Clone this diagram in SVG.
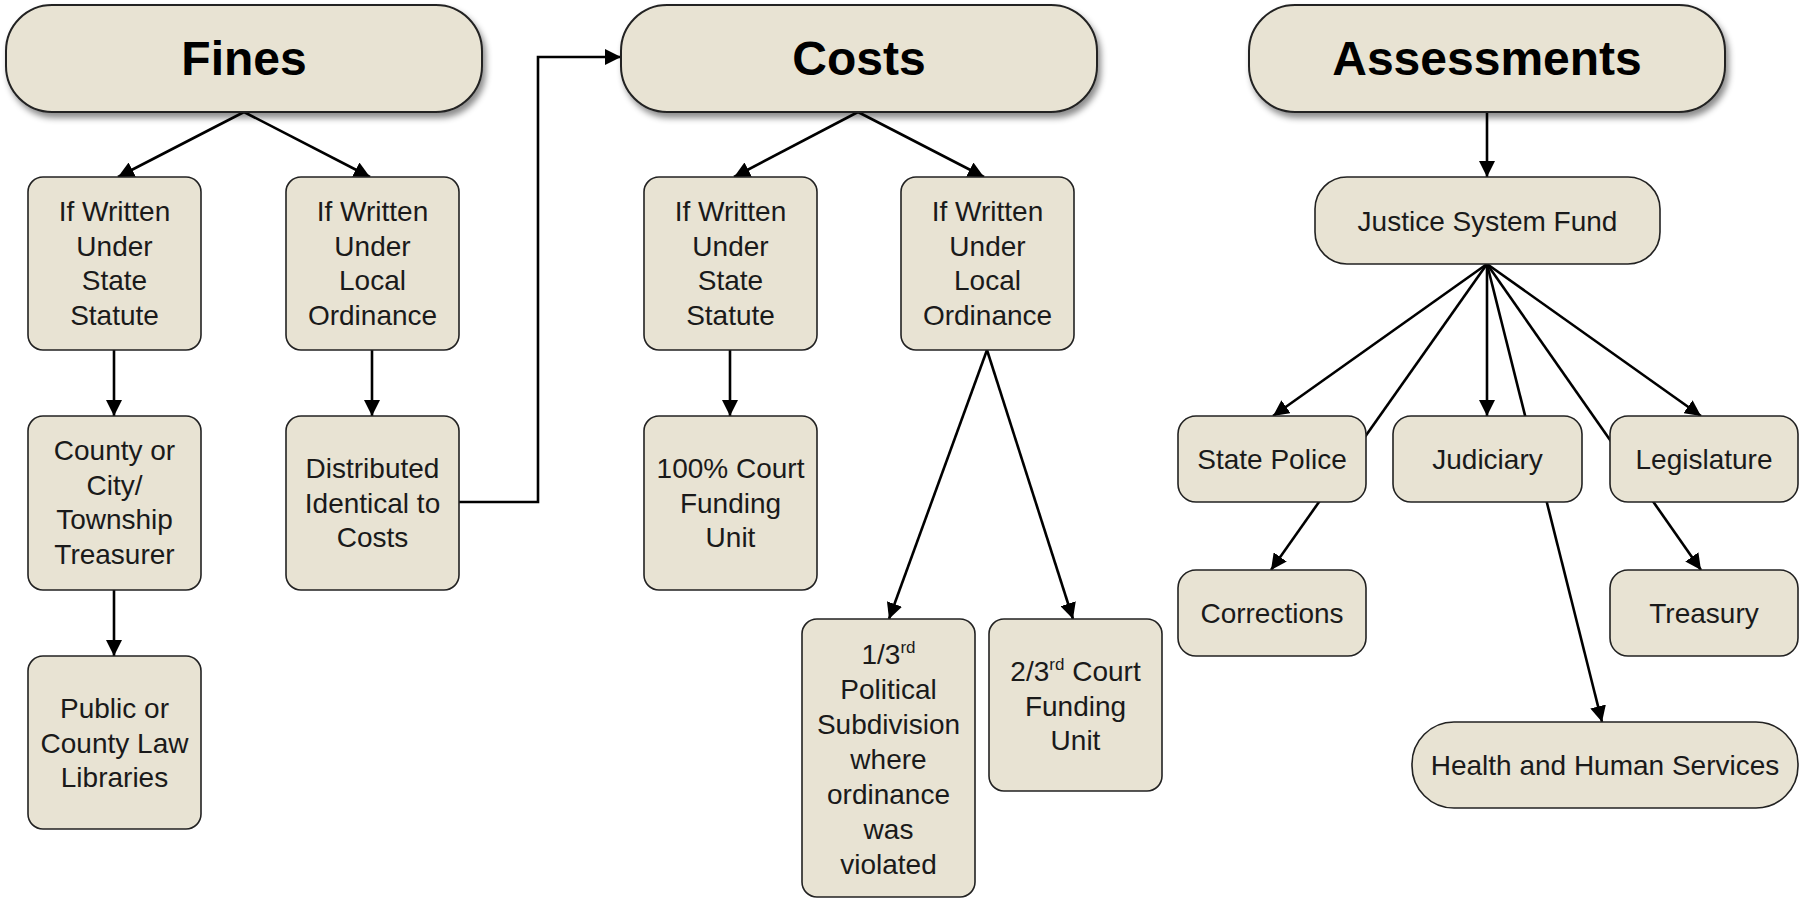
<svg xmlns="http://www.w3.org/2000/svg" width="1799" height="900" viewBox="0 0 1799 900">
<style>
.box{fill:#E8E3D3;stroke:#222;stroke-width:1.6}
.pill{fill:#E8E3D3;stroke:#222;stroke-width:2;filter:url(#sh)}
.t{font-family:"Liberation Sans",Arial,sans-serif;font-size:28px;fill:#1a1a1a;text-anchor:middle}
.h{font-family:"Liberation Sans",Arial,sans-serif;font-size:48px;font-weight:bold;fill:#000;text-anchor:middle}
.sup{font-size:17px}
.c{fill:none;stroke:#000;stroke-width:2.6}
.a{marker-end:url(#ar)}
</style>
<defs>
<filter id="sh" x="-10%" y="-20%" width="120%" height="150%">
<feDropShadow dx="3" dy="5" stdDeviation="3" flood-color="#000" flood-opacity="0.45"/>
</filter>
<marker id="ar" markerUnits="userSpaceOnUse" markerWidth="16" markerHeight="16" viewBox="0 0 16 16" refX="16" refY="8" orient="auto">
<path d="M0,0 L16,8 L0,16 z" fill="#000"/>
</marker>
</defs>
<rect width="1799" height="900" fill="#fff"/>
<g id="connectors">
<line class="c a" x1="244" y1="112" x2="118" y2="177"/>
<line class="c a" x1="244" y1="112" x2="370" y2="177"/>
<line class="c a" x1="114" y1="350" x2="114" y2="416"/>
<line class="c a" x1="114" y1="590" x2="114" y2="656"/>
<line class="c a" x1="372" y1="350" x2="372" y2="416"/>
<polyline class="c a" points="459,502 538,502 538,57 621,57"/>
<line class="c a" x1="858" y1="112" x2="734" y2="177"/>
<line class="c a" x1="858" y1="112" x2="984" y2="177"/>
<line class="c a" x1="730" y1="350" x2="730" y2="416"/>
<line class="c a" x1="987" y1="350" x2="889" y2="619"/>
<line class="c a" x1="987" y1="350" x2="1073" y2="619"/>
<line class="c a" x1="1487" y1="112" x2="1487" y2="177"/>
<line class="c a" x1="1487" y1="264" x2="1273" y2="416"/>
<line class="c a" x1="1487" y1="264" x2="1271" y2="570"/>
<line class="c a" x1="1487" y1="264" x2="1487" y2="416"/>
<line class="c a" x1="1487" y1="264" x2="1602" y2="722"/>
<line class="c a" x1="1487" y1="264" x2="1701" y2="416"/>
<line class="c a" x1="1487" y1="264" x2="1701" y2="570"/>
</g>
<g id="fines">
<rect class="pill" x="6" y="5" width="476" height="107" rx="46"/>
<text class="h" x="244" y="75">Fines</text>
</g>
<g id="fines-state">
<rect class="box" x="28" y="177" width="173" height="173" rx="15"/>
<text class="t" x="114.5" y="221">If Written</text>
<text class="t" x="114.5" y="255.5">Under</text>
<text class="t" x="114.5" y="290">State</text>
<text class="t" x="114.5" y="324.5">Statute</text>
</g>
<g id="fines-local">
<rect class="box" x="286" y="177" width="173" height="173" rx="15"/>
<text class="t" x="372.5" y="221">If Written</text>
<text class="t" x="372.5" y="255.5">Under</text>
<text class="t" x="372.5" y="290">Local</text>
<text class="t" x="372.5" y="324.5">Ordinance</text>
</g>
<g id="county">
<rect class="box" x="28" y="416" width="173" height="174" rx="15"/>
<text class="t" x="114.5" y="460">County or</text>
<text class="t" x="114.5" y="494.5">City/</text>
<text class="t" x="114.5" y="529">Township</text>
<text class="t" x="114.5" y="563.5">Treasurer</text>
</g>
<g id="public">
<rect class="box" x="28" y="656" width="173" height="173" rx="15"/>
<text class="t" x="114.5" y="718">Public or</text>
<text class="t" x="114.5" y="752.5">County Law</text>
<text class="t" x="114.5" y="787">Libraries</text>
</g>
<g id="distributed">
<rect class="box" x="286" y="416" width="173" height="174" rx="15"/>
<text class="t" x="372.5" y="478">Distributed</text>
<text class="t" x="372.5" y="512.5">Identical to</text>
<text class="t" x="372.5" y="547">Costs</text>
</g>
<g id="costs">
<rect class="pill" x="621" y="5" width="476" height="107" rx="46"/>
<text class="h" x="859" y="75">Costs</text>
</g>
<g id="costs-state">
<rect class="box" x="644" y="177" width="173" height="173" rx="15"/>
<text class="t" x="730.5" y="221">If Written</text>
<text class="t" x="730.5" y="255.5">Under</text>
<text class="t" x="730.5" y="290">State</text>
<text class="t" x="730.5" y="324.5">Statute</text>
</g>
<g id="costs-local">
<rect class="box" x="901" y="177" width="173" height="173" rx="15"/>
<text class="t" x="987.5" y="221">If Written</text>
<text class="t" x="987.5" y="255.5">Under</text>
<text class="t" x="987.5" y="290">Local</text>
<text class="t" x="987.5" y="324.5">Ordinance</text>
</g>
<g id="court100">
<rect class="box" x="644" y="416" width="173" height="174" rx="15"/>
<text class="t" x="730.5" y="478">100% Court</text>
<text class="t" x="730.5" y="512.5">Funding</text>
<text class="t" x="730.5" y="547">Unit</text>
</g>
<g id="political">
<rect class="box" x="802" y="619" width="173" height="278" rx="15"/>
<text class="t" x="888.5" y="664">1/3<tspan class="sup" dy="-11">rd</tspan></text>
<text class="t" x="888.5" y="699">Political</text>
<text class="t" x="888.5" y="734">Subdivision</text>
<text class="t" x="888.5" y="769">where</text>
<text class="t" x="888.5" y="804">ordinance</text>
<text class="t" x="888.5" y="839">was</text>
<text class="t" x="888.5" y="874">violated</text>
</g>
<g id="court23">
<rect class="box" x="989" y="619" width="173" height="172" rx="15"/>
<text class="t" x="1075.5" y="681">2/3<tspan class="sup" dy="-11">rd</tspan><tspan dy="11"> Court</tspan></text>
<text class="t" x="1075.5" y="715.5">Funding</text>
<text class="t" x="1075.5" y="750">Unit</text>
</g>
<g id="assessments">
<rect class="pill" x="1249" y="5" width="476" height="107" rx="46"/>
<text class="h" x="1487" y="75">Assessments</text>
</g>
<g id="jsf">
<rect class="box" x="1315" y="177" width="345" height="87" rx="32"/>
<text class="t" x="1487.5" y="230.5">Justice System Fund</text>
</g>
<g id="state-police">
<rect class="box" x="1178" y="416" width="188" height="86" rx="18"/>
<text class="t" x="1272" y="469">State Police</text>
</g>
<g id="judiciary">
<rect class="box" x="1393" y="416" width="189" height="86" rx="18"/>
<text class="t" x="1487.5" y="469">Judiciary</text>
</g>
<g id="legislature">
<rect class="box" x="1610" y="416" width="188" height="86" rx="18"/>
<text class="t" x="1704" y="469">Legislature</text>
</g>
<g id="corrections">
<rect class="box" x="1178" y="570" width="188" height="86" rx="18"/>
<text class="t" x="1272" y="623">Corrections</text>
</g>
<g id="treasury">
<rect class="box" x="1610" y="570" width="188" height="86" rx="18"/>
<text class="t" x="1704" y="623">Treasury</text>
</g>
<g id="hhs">
<rect class="box" x="1412" y="722" width="386" height="86" rx="42"/>
<text class="t" x="1605" y="775">Health and Human Services</text>
</g>
</svg>
